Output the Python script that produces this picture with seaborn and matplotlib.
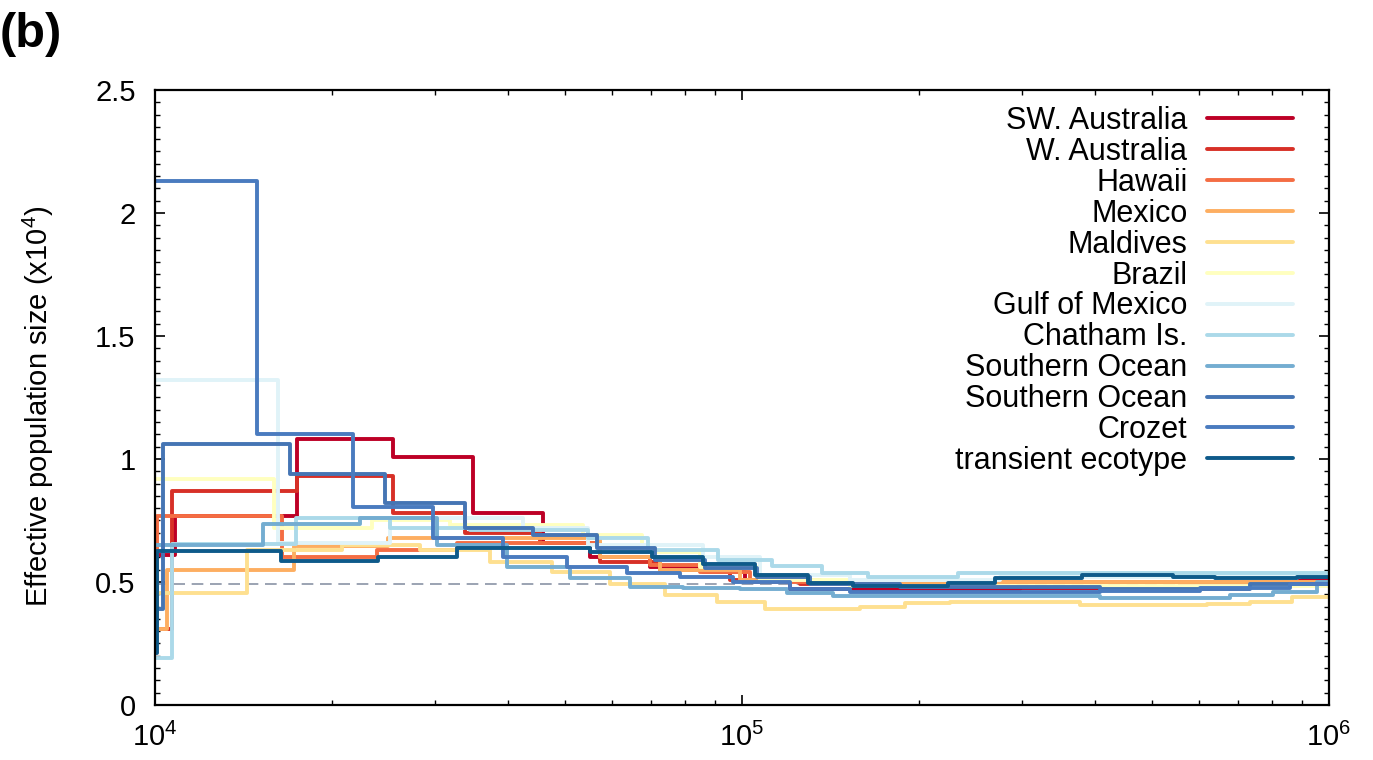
import numpy as np
import pandas as pd
import matplotlib
matplotlib.use("Agg")
import matplotlib.pyplot as plt
import seaborn as sns
from matplotlib.ticker import MultipleLocator, LogLocator, NullFormatter, FuncFormatter

# ---------------- data (time in years, Ne in units of 1e4) ----------------
labels = ["SW. Australia", "W. Australia", "Hawaii", "Mexico", "Maldives", "Brazil",
          "Gulf of Mexico", "Chatham Is.", "Southern Ocean", "Southern Ocean",
          "Crozet", "transient ecotype"]
colors = ["#bd0026", "#d73027", "#f46d43", "#fdae61", "#fee090", "#ffffbf",
          "#e0f3f8", "#abd9e9", "#74add1", "#4575b4", "#4a7bbf", "#0e5a8a"]

sw_aus_t = [1e4, 10820, 17460, 25440, 34800, 45810, 55080, 69700, 85810, 101200, 120700, 297600, 557500, 892500, 1e6]
sw_aus_ne = [0.61, 0.77, 1.08, 1.01, 0.78, 0.66, 0.60, 0.56, 0.54, 0.51, 0.47, 0.475, 0.49, 0.51, 0.51]

w_aus_t = [1e4, 10690, 17460, 25440, 33740, 45280, 57290, 72520, 95410, 125500, 275100, 1e6]
w_aus_ne = [0.31, 0.87, 0.93, 0.78, 0.70, 0.66, 0.58, 0.55, 0.51, 0.49, 0.50, 0.50]

hawaii_t = [1e4, 10080, 16460, 23890, 32690, 57290, 69700, 84800, 103200, 152800, 275100, 1e6]
hawaii_ne = [0.33, 0.77, 0.60, 0.63, 0.66, 0.60, 0.57, 0.54, 0.50, 0.49, 0.50, 0.50]

mexico_t = [1e4, 10480, 17250, 24940, 57290, 72520, 99220, 135800, 275100, 1e6]
mexico_ne = [0.31, 0.55, 0.645, 0.68, 0.60, 0.55, 0.51, 0.49, 0.50, 0.50]

maldives_t = [1e4, 14350, 20830, 28280, 37220, 47460, 59580, 73950, 90660, 109400, 158900, 189600, 226100, 376600, 619700, 733500, 865000, 1e6]
maldives_ne = [0.455, 0.63, 0.65, 0.63, 0.58, 0.54, 0.49, 0.447, 0.42, 0.39, 0.40, 0.415, 0.42, 0.405, 0.41, 0.42, 0.44, 0.44]

brazil_t = [1e4, 15950, 23420, 31810, 53590, 67530, 84800, 107300, 152800, 1e6]
brazil_ne = [0.92, 0.72, 0.75, 0.73, 0.69, 0.62, 0.56, 0.51, 0.485, 0.485]

gulf_t = [1e4, 16200, 25140, 42360, 54650, 85810, 107300, 152800, 275100, 892500, 1e6]
gulf_ne = [1.32, 0.66, 0.76, 0.72, 0.65, 0.60, 0.53, 0.51, 0.52, 0.53, 0.53]

chatham_t = [1e4, 10690, 17390, 25140, 34400, 54650, 69150, 91020, 112500, 136900, 163900, 233300, 1e6]
chatham_ne = [0.19, 0.655, 0.76, 0.72, 0.71, 0.68, 0.63, 0.59, 0.565, 0.535, 0.52, 0.535, 0.535]

so1_t = [1e4, 15280, 22350, 30230, 39780, 50930, 64440, 79340, 99220, 119300, 142900, 407300, 678300, 802700, 954100, 1e6]
so1_ne = [0.65, 0.735, 0.76, 0.65, 0.56, 0.515, 0.48, 0.475, 0.47, 0.455, 0.445, 0.435, 0.447, 0.46, 0.50, 0.50]

so2_t = [1e4, 10320, 16980, 24650, 33740, 44060, 56620, 71080, 86500, 106100, 130600, 185900, 407300, 733500, 1e6]
so2_ne = [0.39, 1.06, 0.94, 0.82, 0.72, 0.69, 0.64, 0.59, 0.555, 0.52, 0.49, 0.48, 0.47, 0.49, 0.49]

crozet_t = [1e4, 14920, 21740, 29760, 39150, 50340, 63690, 78420, 96530, 120700, 152800, 407300, 602900, 858200, 1e6]
crozet_ne = [2.13, 1.10, 0.805, 0.68, 0.60, 0.56, 0.535, 0.52, 0.50, 0.47, 0.46, 0.465, 0.475, 0.49, 0.49]

transient_t = [1e4, 10080, 16390, 23990, 32690, 55080, 70250, 85810, 105200, 129600, 154600, 224400, 269800, 379500, 542300, 639400, 882100, 1e6]
transient_ne = [0.21, 0.626, 0.585, 0.60, 0.64, 0.62, 0.60, 0.575, 0.53, 0.495, 0.485, 0.495, 0.515, 0.53, 0.52, 0.515, 0.52, 0.52]

ref_ne = 0.49
xticks_major = [1e4, 1e5, 1e6]
yticks_major = [0, 0.5, 1.0, 1.5, 2.0, 2.5]

series_t = [sw_aus_t, w_aus_t, hawaii_t, mexico_t, maldives_t, brazil_t,
            gulf_t, chatham_t, so1_t, so2_t, crozet_t, transient_t]
series_ne = [sw_aus_ne, w_aus_ne, hawaii_ne, mexico_ne, maldives_ne, brazil_ne,
             gulf_ne, chatham_ne, so1_ne, so2_ne, crozet_ne, transient_ne]

# ---------------- style ----------------
sns.set_theme(style="ticks")
plt.rcParams["font.family"] = ["Liberation Sans", "DejaVu Sans"]
plt.rcParams["mathtext.fontset"] = "custom"
plt.rcParams["mathtext.rm"] = "Liberation Sans"
plt.rcParams["mathtext.it"] = "Liberation Sans:italic"
plt.rcParams["mathtext.bf"] = "Liberation Sans:bold"
for k in ["text.color", "axes.labelcolor", "xtick.color", "ytick.color", "xtick.labelcolor", "ytick.labelcolor"]:
    plt.rcParams[k] = "black"

fig = plt.figure(figsize=(13.73, 7.60), dpi=100)
ax = fig.add_axes([0.1129, 0.0724, 0.8550, 0.8092])

ax.axhline(ref_ne, color="#8a93a6", lw=1.2, ls=(0, (7, 4)), zorder=1)

for i, (t, ne) in enumerate(zip(series_t, series_ne)):
    df = pd.DataFrame({"t": t, "ne": ne})
    sns.lineplot(data=df, x="t", y="ne", ax=ax, color=colors[i], linewidth=2.8,
                 drawstyle="steps-post", estimator=None, sort=False,
                 label=f"s{i}", zorder=2 + i * 0.01)

ax.set_xscale("log")
ax.set_xlim(1e4, 1e6)
ax.set_ylim(0, 2.5)
ax.set_xticks(xticks_major)
ax.xaxis.set_minor_locator(LogLocator(base=10, subs=np.arange(2, 10)))
ax.xaxis.set_minor_formatter(NullFormatter())
ax.set_yticks(yticks_major)
ax.yaxis.set_minor_locator(MultipleLocator(0.05))
ax.yaxis.set_major_formatter(FuncFormatter(lambda v, p: f"{v:g}"))

ax.tick_params(which="both", direction="in", top=True, right=True, colors="black",
               labelsize=21)
ax.tick_params(which="major", length=7, width=1.2)
ax.tick_params(which="minor", length=3.5, width=1.0)
ax.tick_params(axis="y", pad=14)
ax.tick_params(axis="x", pad=13)

for sp in ax.spines.values():
    sp.set_color("black")
    sp.set_linewidth(1.6)

ax.set_xlabel("")
ax.set_ylabel("Effective population size (x10$^{4}$)", fontsize=21, color="black")
ax.yaxis.set_label_coords(-0.084, 0.485)

handles = ax.get_lines()[1:]
leg = ax.legend(handles, labels, loc="upper right", bbox_to_anchor=(0.9693, 0.974),
                frameon=False, markerfirst=False, fontsize=22, handlelength=2.8,
                handletextpad=0.65, labelspacing=0.03, borderpad=0, borderaxespad=0)
for txt in leg.get_texts():
    txt.set_color("black")

fig.text(0.0, 0.954, "(b)", fontsize=35, fontweight="bold", va="center", ha="left")

fig.savefig("out.png", dpi=100)
